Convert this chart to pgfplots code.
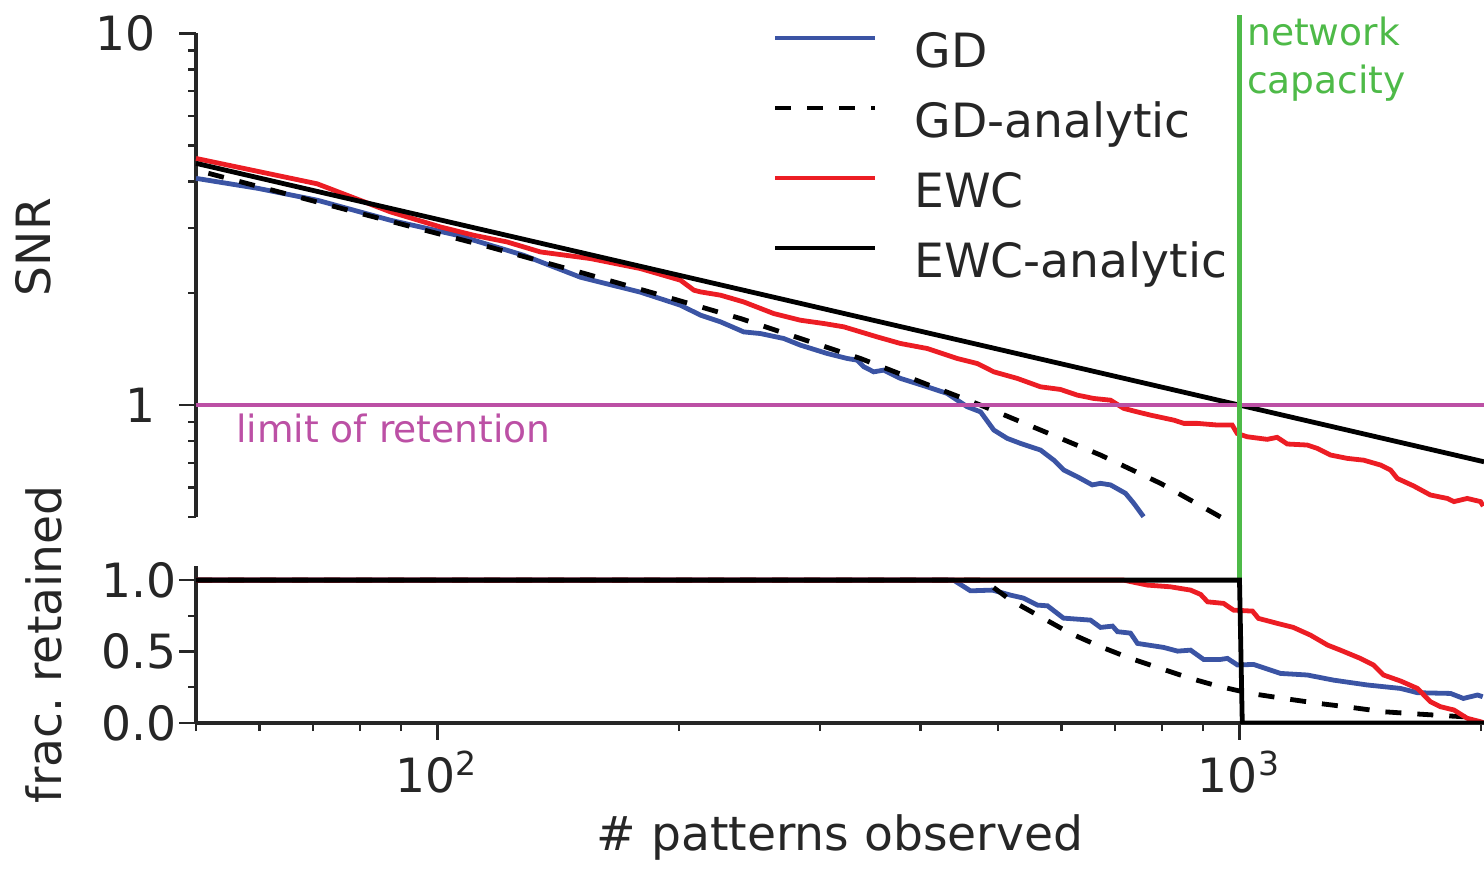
\documentclass[border=0pt]{standalone}
\usepackage{fontspec}
\setmainfont{DejaVu Sans}
\usepackage{pgfplots}
\pgfplotsset{compat=1.18}

\definecolor{ink}{RGB}{38,38,38}
\definecolor{gdblue}{RGB}{59,84,164}
\definecolor{ewcred}{RGB}{236,29,36}
\definecolor{capgreen}{RGB}{78,186,72}
\definecolor{retmag}{RGB}{188,80,165}

\newcommand{\bigfont}{\fontsize{11.8}{14}\selectfont}
\newcommand{\smallfont}{\fontsize{9.4}{11}\selectfont}

\pgfplotsset{
  every axis/.append style={
    scale only axis, width=322pt, anchor=south west,
    xmin=50, xmax=2018,
    tick align=outside, major tick length=4.2pt, minor tick length=2pt,
    axis line style={-, draw=ink, line width=0.9pt},
    tick style={draw=ink, line width=0.6pt},
    tick label style={font=\bigfont, text=ink, inner sep=0pt},
    yticklabel style={anchor=east},
  },
}

\begin{document}
\begin{tikzpicture}
\useasboundingbox (0,0) rectangle (371pt,217.25pt);

% SNR panel
\begin{semilogyaxis}[xmode=log, at={(49pt,88pt)}, height=120.9pt,
  ymin=0.5, ymax=10, no markers,
  axis x line=none, axis y line*=left, xtick=\empty,
  ytick={1,10}, yticklabels={1,10},
  yticklabel style={xshift=-5.75pt},
  minor ytick={0.5,0.6,0.7,0.8,0.9,2,3,4,5,6,7,8,9},
  ylabel={SNR},
  every axis y label/.style={at={(axis description cs:-0.11335,0.558)}, rotate=90, anchor=base,
    font=\bigfont, text=ink, inner sep=0pt},
  clip=false,
  legend cell align=left,
  legend style={draw=none, fill=none, at={(axis description cs:0.4472,1.0025)}, anchor=north west,
    inner sep=0pt, row sep=6.4pt, column sep=9.2pt, font=\bigfont, text=ink,
    nodes={inner sep=0pt, text height=8.6pt, text depth=2.5pt}},
  legend image code/.code={\draw[#1] (0pt,4.3pt) -- (25pt,4.3pt);},
]
\addplot[gdblue, line width=1.2pt] coordinates {
  (50,4.075) (59.7,3.831) (70.9,3.557) (87.4,3.143) (105.9,2.864) (128.0,2.531)
  (150.8,2.208) (179.1,2.013) (200.9,1.857) (212.8,1.746) (225.4,1.675) (240.9,1.574)
  (252.7,1.558) (270.2,1.511) (283.5,1.450) (306.1,1.377) (324.2,1.335) (333.7,1.321)
  (340.1,1.268) (349.9,1.229) (360.1,1.242) (377.8,1.180) (408.0,1.120) (432.1,1.075)
  (457.6,0.990) (475.5,0.959) (493.9,0.857) (513.2,0.814) (533.2,0.789) (564.9,0.757)
  (586.9,0.711) (603.9,0.669) (627.6,0.642) (655.3,0.610) (671.0,0.616) (690.6,0.610)
  (721.0,0.579) (738.4,0.544) (759.3,0.501)
};
\addlegendentry{GD}
\addplot[black, line width=1.2pt, dash pattern=on 4pt off 4pt] coordinates {
  (51.8,4.205) (81.8,3.242) (116.4,2.659) (152.1,2.264) (184.3,2.013) (238.7,1.710)
  (283.5,1.511) (336.9,1.335) (400.2,1.155) (475.5,1.0) (564.9,0.857) (671.0,0.734)
  (797.3,0.616) (928.9,0.512) (947,0.5)
};
\addlegendentry{GD-analytic}
\addplot[ewcred, line width=1.2pt] coordinates {
  (50,4.61) (70.8,3.94) (87.4,3.31) (100.9,3.015) (111.0,2.864) (122.1,2.748)
  (134.4,2.583) (155.2,2.479) (179.1,2.330) (200.9,2.168) (208.8,2.038) (212.8,2.017)
  (225.4,1.976) (240.9,1.895) (262.5,1.764) (283.5,1.692) (303.1,1.658) (321.1,1.624)
  (353.4,1.526) (377.8,1.465) (408.0,1.420) (444.6,1.335) (470.9,1.294) (493.9,1.229)
  (528.3,1.180) (564.9,1.120) (598.1,1.102) (627.6,1.064) (658.3,1.042) (690.6,1.031)
  (717.2,0.980) (745.5,0.959) (774.5,0.940) (828.4,0.911) (852.5,0.893) (886.0,0.893)
  (938.1,0.884) (979.2,0.884) (993.4,0.839) (1022.3,0.822) (1082.6,0.809) (1114.2,0.819)
  (1147,0.786) (1214.6,0.781) (1250,0.765) (1298.6,0.734) (1362.4,0.719) (1428.9,0.711)
  (1499,0.690) (1543,0.669) (1573,0.635) (1649,0.606) (1730,0.573) (1816,0.561)
  (1851,0.550) (1923,0.561) (1998,0.550) (2013,0.535)
};
\addlegendentry{EWC}
\addplot[black, line width=1.2pt] coordinates {(50,4.472) (2018,0.704)};
\addlegendentry{EWC-analytic}
\addplot[retmag, line width=1pt, forget plot] coordinates {(50,1) (2018,1)};
\addplot[capgreen, line width=1.2pt, forget plot] coordinates {(1000,0.3386) (1000,11.18)};
\node[font=\smallfont, text=retmag, anchor=base west, inner sep=0pt] at (axis cs:56,0.795) {limit of retention};
\node[font=\smallfont, text=capgreen, anchor=base west, inner sep=0pt] at (axis cs:1020,9.29) {network};
\node[font=\smallfont, text=capgreen, anchor=base west, inner sep=0pt] at (axis cs:1020,6.9) {capacity};
\end{semilogyaxis}

% fraction retained panel
\begin{semilogxaxis}[at={(49pt,36.5pt)}, height=39.3pt,
  ymin=0, ymax=1.1, no markers,
  axis x line*=bottom, axis y line*=left,
  xtick={100,1000}, xticklabels={10\textsuperscript{2},10\textsuperscript{3}},
  minor xtick={50,60,70,80,90,200,300,400,500,600,700,800,900,2000},
  xticklabel style={anchor=north, yshift=-2.5pt},
  ytick={0,0.5,1}, yticklabels={0.0,0.5,1.0}, minor ytick={0.25,0.75},
  yticklabel style={xshift=-0.5pt},
  xlabel={\# patterns observed}, ylabel={frac.\ retained},
  every axis x label/.style={at={(axis description cs:0.5,-0.808)}, anchor=base,
    font=\bigfont, text=ink, inner sep=0pt},
  every axis y label/.style={at={(axis description cs:-0.1048,0.5)}, rotate=90, anchor=base,
    font=\bigfont, text=ink, inner sep=0pt},
]
\addplot[gdblue, line width=1.2pt] coordinates {
  (50,1) (440,1) (461.9,0.925) (492,0.93) (518.2,0.895) (537.9,0.874) (560,0.825)
  (576.3,0.82) (603.3,0.734) (652,0.72) (671,0.669) (694.5,0.678) (704.6,0.639)
  (731.4,0.629) (746.2,0.557) (804.2,0.529) (837.2,0.503) (869,0.51) (902,0.445)
  (947,0.445) (966.1,0.452) (994.3,0.406) (1041,0.41) (1125,0.347) (1215,0.336)
  (1310,0.30) (1444,0.266) (1588,0.242) (1667,0.212) (1833,0.207) (1902,0.172)
  (1981,0.196) (2010,0.184)
};
\addplot[black, line width=1.2pt, dash pattern=on 4pt off 4pt] coordinates {
  (50,1) (479.6,1) (518.2,0.860) (569.6,0.732) (615.5,0.627) (671,0.534) (731.4,0.452)
  (797.3,0.382) (869,0.312) (939,0.259) (1032,0.207) (1135,0.172) (1252,0.138)
  (1375,0.110) (1512,0.079) (1667,0.063) (1833,0.049) (1998,0.037)
};
\addplot[ewcred, line width=1.2pt] coordinates {
  (50,1) (716.7,1) (767.9,0.965) (820.4,0.953) (869,0.930) (894.3,0.900) (912.4,0.848)
  (955.3,0.837) (982.9,0.790) (1038,0.783) (1056,0.732) (1115,0.697) (1167,0.669)
  (1226,0.615) (1288,0.545) (1336,0.510) (1415,0.452) (1469,0.406) (1512,0.336)
  (1588,0.294) (1667,0.242) (1730,0.149) (1781,0.114) (1851,0.091) (1923,0.033)
  (1998,0.009) (2018,0)
};
\addplot[black, line width=1.2pt] coordinates {(50,1) (1000,1) (1008,0) (2018,0)};
\end{semilogxaxis}
\end{tikzpicture}
\end{document}
